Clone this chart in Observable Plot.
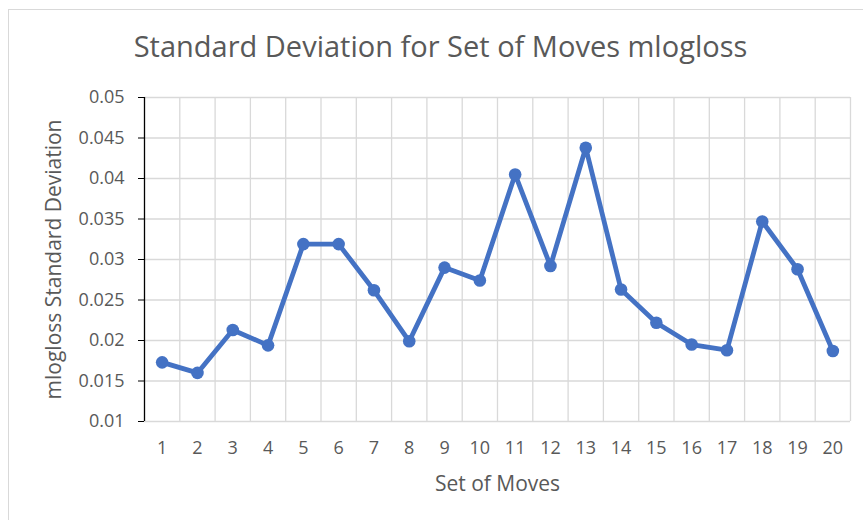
<!DOCTYPE html>
<html>
<head>
<meta charset="utf-8">
<script src="https://cdn.jsdelivr.net/npm/d3@7"></script>
<script src="https://cdn.jsdelivr.net/npm/@observablehq/plot@0.6"></script>
<style>
  html, body { margin: 0; padding: 0; background: #fff; overflow: hidden; }
  #wrap { position: relative; width: 863px; height: 520px; }
  #frame { position: absolute; left: 8px; top: 9px; width: 900px; height: 600px; border: 1px solid #d9d9d9; box-sizing: border-box; }
  #chart { position: absolute; left: 0; top: 0; }
</style>
</head>
<body>
<div id="wrap"><div id="frame"></div><div id="chart"></div></div>
<script>
const titleText = "Standard Deviation for Set of Moves mlogloss";
const xTitle = "Set of Moves";
const yTitle = "mlogloss Standard Deviation";
const moves = [1, 2, 3, 4, 5, 6, 7, 8, 9, 10, 11, 12, 13, 14, 15, 16, 17, 18, 19, 20];
const sd = [0.0173, 0.0160, 0.0213, 0.0194, 0.0319, 0.0319, 0.0262, 0.0199, 0.0290, 0.0274,
            0.0405, 0.0292, 0.0438, 0.0263, 0.0222, 0.0195, 0.0188, 0.0347, 0.0288, 0.0187];
const yTicks = [0.01, 0.015, 0.02, 0.025, 0.03, 0.035, 0.04, 0.045, 0.05];
const yTickLabels = ["0.01", "0.015", "0.02", "0.025", "0.03", "0.035", "0.04", "0.045", "0.05"];

const data = moves.map((m, i) => ({move: m, sd: sd[i]}));
const boundaries = moves.map(m => m + 0.5);

const font = "'Open Sans', Calibri, sans-serif";
const plot = Plot.plot({
  width: 863,
  height: 520,
  marginLeft: 144,
  marginRight: 13,
  marginTop: 97,
  marginBottom: 99,
  style: {fontFamily: font, background: "transparent", overflow: "visible"},
  x: {domain: [0.5, 20.5], axis: null},
  y: {domain: [0.01, 0.05], axis: null},
  marks: [
    Plot.gridY(yTicks, {stroke: "#d9d9d9", strokeOpacity: 1, strokeWidth: 1.3}),
    Plot.ruleX(boundaries, {stroke: "#d9d9d9", strokeWidth: 1.3}),
    Plot.axisY(yTicks, {
      tickSize: 6, tickPadding: 14, stroke: "#000", fill: "#595959", fontSize: 18,
      tickFormat: (d, i) => yTickLabels[i], label: null
    }),
    Plot.axisX(moves, {
      tickSize: 0, tickPadding: 20, fill: "#595959", fontSize: 18, label: null
    }),
    Plot.ruleX([0.5], {stroke: "#000", strokeWidth: 1.3}),
    Plot.line(data, {x: "move", y: "sd", stroke: "#4472C4", strokeWidth: 4.8, strokeLinejoin: "round"}),
    Plot.dot(data, {x: "move", y: "sd", r: 6.3, fill: "#4472C4", stroke: null}),
    Plot.text([yTitle], {frameAnchor: "left", dx: -90, rotate: -90, fontSize: 21, fill: "#595959", textAnchor: "middle", lineAnchor: "middle"}),
    Plot.text([xTitle], {frameAnchor: "bottom", dy: 63, fontSize: 21, fill: "#595959", lineAnchor: "middle"}),
    Plot.text([titleText], {frameAnchor: "top", dx: -57, dy: -50, fontSize: 29, fill: "#595959", lineAnchor: "middle"})
  ]
});
document.getElementById("chart").appendChild(plot);
</script>
</body>
</html>
